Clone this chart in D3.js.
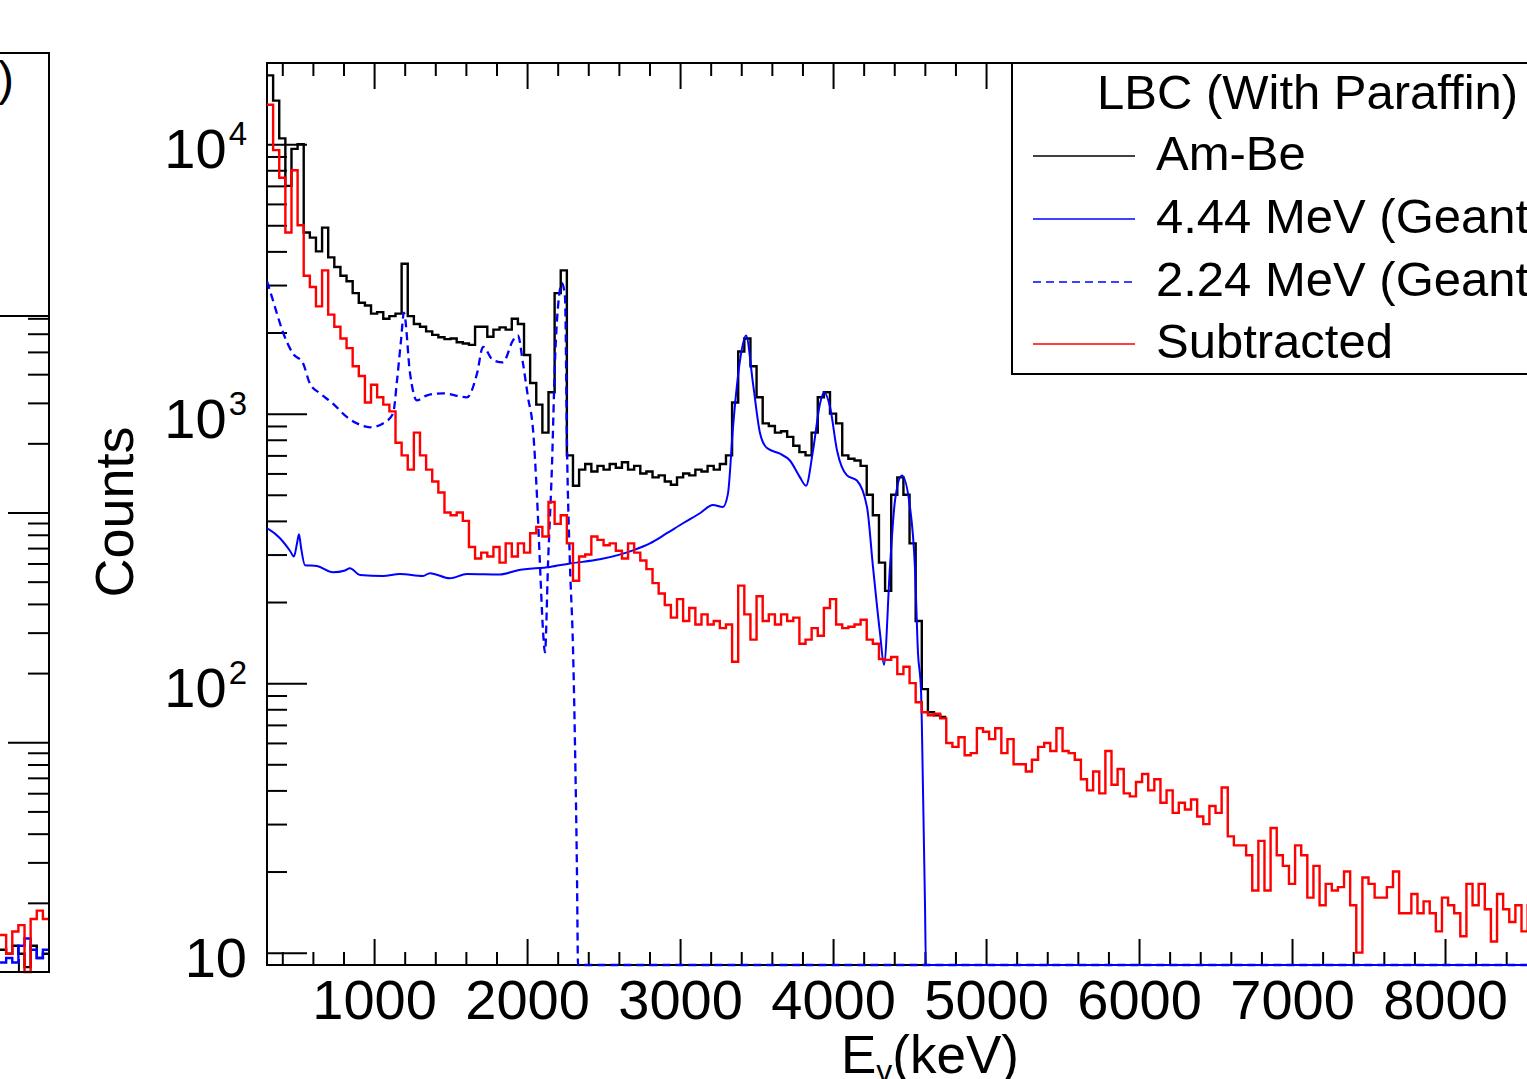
<!DOCTYPE html>
<html><head><meta charset="utf-8">
<script src="https://cdn.jsdelivr.net/npm/d3@7"></script>
<style>
html,body{margin:0;padding:0;background:#fff;}
svg{display:block;font-family:"Liberation Sans",Arial,Helvetica,sans-serif;}
</style></head><body>
<svg id="chart" width="1527" height="1079"></svg>
<script>
// ---------------- data ----------------
const binStart = 300;   // keV, left edge of first bin
const binWidth = 40;    // keV

// Am-Be measured spectrum (counts per bin)
const amBe = [18000,14500,10500,7000,9600,10000,4700,4500,4000,4900,
  3800,3500,3250,3100,2800,2580,2520,2350,2380,2250,
  2300,2350,3600,2300,2150,2100,2020,1960,1920,1890,
  1900,1840,1820,1800,2100,2100,1930,2050,2090,2050,
  2250,2150,1650,1300,1080,850,1200,2800,3400,700,
  540,620,650,610,640,620,650,630,660,620,
  640,600,610,580,590,560,545,580,600,590,
  620,610,640,620,650,700,1100,1700,1900,1500,
  1150,920,900,850,860,820,760,720,700,850,
  1150,1200,1000,920,700,680,670,640,500,420,
  280,220,500,580,500,330,170,95,78,76,75];

// Subtracted spectrum (counts per bin)
const subtracted = [14000,9500,7500,4700,8000,5000,3250,2950,2500,3400,
  2330,2100,1900,1750,1500,1380,1100,1280,1150,1080,
  1020,780,700,620,850,700,620,560,510,430,
  420,430,400,320,290,305,295,320,280,330,
  295,330,305,360,380,350,470,390,420,330,
  240,295,300,350,340,325,330,310,290,330,
  305,285,265,235,215,195,175,205,170,190,
  165,180,165,170,160,165,120,230,180,145,
  210,170,180,165,180,170,175,140,145,160,
  150,190,205,165,160,162,165,172,145,140,
  123,122,125,108,115,100,85,78,76,77,
  74,60,58,63,54,55,68,66,62,68,
  55,62,50,50,47,52,58,60,56,68,
  56,55,52,44,40,47,39,56,42,48,
  39,38,43,46,40,44,36,40,33,36,
  34,37,32,30,35,33,41,27,25,25,
  23,17,26,17,29,23,21,18,25,23,
  16,21,15,18,17,17.5,20,15,10,19,
  18,16,16,17.5,20,14,14,16.5,14,15.5,
  14,12,16,15,14,11.5,18,15,18,14.5,
  11,16.5,14.5,13,15,12,15];

// Geant4 4.44 MeV simulation (energy keV, counts)
const g444E = [300,320,385,450,476,496,509,522,548,627,731,810,842,908,1058,1169,1320,1365,1496,1607,
  1823,1934,2150,2280,2476,2692,2803,2914,3019,3130,3215,3280,3313,3346,3392,3431,3477,3522,3568,3653,
  3718,3784,3823,3869,3915,3941,3980,4026,4091,4156,4222,4261,4307,4333,4372,4405,4450,4503,4535,4555,
  4575,4588,4601,4607,9000];
const g444V = [375,370,345,310,295,330,357,320,274,272,258,262,267,252,250,254,250,256,245,254,
  253,262,270,278,288,311,330,360,392,427,458,450,505,890,1580,1950,1290,850,745,710,
  670,580,540,730,1090,1200,1060,730,590,565,450,270,153,117,270,477,590,450,270,130,
  94,40,15,0,0];

// Geant4 2.24 MeV simulation (energy keV, counts)
const g224E = [300,333,365,405,470,535,581,646,731,823,888,973,1058,1124,1150,1176,1195,1235,1280,1346,
  1450,1607,1673,1712,1777,1842,1908,1940,1973,2006,2039,2065,2084,2104,2117,2137,2163,2182,2208,2228,
  2248,2261,2280,2300,2313,2326,2333,9000];
const g224V = [3100,2700,2350,2000,1670,1540,1290,1190,1090,970,920,890,920,1000,1330,1870,2370,1410,1120,1170,
  1190,1150,1410,1770,1580,1550,1870,1950,1540,1150,870,490,278,157,130,278,650,1540,2700,3050,
  2700,750,278,136,60,20,0,0];

// visible tail of the neighbouring (left) panel, bins from 8680 keV
const leftTailStart = 8680;
const leftRed   = [14.5,12,15,16,9.5,17,18.5,17];
const leftBlue  = [11,11.5,11,13,14,12.5,11.5,12.5];
const leftBlack = [12.5,12,13,12,10.5,13,11.5,12];

const xTickLabels = [1000,2000,3000,4000,5000,6000,7000,8000];
const yMajorTicks = [10,100,1000,10000];
const legendHeader = "LBC (With Paraffin)";
const legendLabels = ["Am-Be","4.44 MeV (Geant4)","2.24 MeV (Geant4)","Subtracted"];
const seriesColors = ["#000000","#0000ff","#0000ff","#ff0000"];

// ---------------- chart ----------------
const svg = d3.select("#chart");
const FONT = '"Liberation Sans",Arial,Helvetica,sans-serif';
const P = {left:267, right:1598, top:63, bottom:965};
const x = d3.scaleLinear().domain([300,9000]).range([P.left,P.right]);
const yMin = 9, yMax = 20000;
const y = d3.scaleLog().domain([yMin,yMax]).range([P.bottom,P.top]);
const yc = v => y(Math.max(v, yMin));

// minor tick values
const xMinor = d3.range(400, 9000, 200).filter(v => v % 1000 !== 0);
const yMinor = [];
for (let k = 1; k <= 4; k++) for (let m = 2; m <= 9; m++) {
  const v = m * Math.pow(10, k);
  if (v > yMin && v < yMax) yMinor.push(v);
}

function styleAxis(g){
  g.select(".domain").remove();
  g.selectAll(".tick line").attr("stroke","#000").attr("stroke-width",2);
  g.attr("font-family",FONT);
}

// ---- left (neighbouring) panel fragment ----
const xL = d3.scaleLinear().domain([300,9000]).range([49-8700*0.153, 49]);
const yL = d3.scaleLog().domain([10,1e5]).range([972,53]);
const yLMinor = [];
for (let k = 1; k <= 4; k++) for (let m = 2; m <= 9; m++) yLMinor.push(m*Math.pow(10,k));

svg.append("g").attr("transform","translate(49,0)")
  .call(d3.axisRight(yL).tickValues(yLMinor).tickSize(-21).tickFormat(""))
  .call(styleAxis);
svg.append("g").attr("transform","translate(49,0)")
  .call(d3.axisRight(yL).tickValues([100,1000,10000]).tickSize(-41).tickFormat(""))
  .call(styleAxis);
svg.append("g").attr("transform","translate(0,972)")
  .call(d3.axisBottom(xL).tickValues([8800]).tickSize(-13).tickFormat(""))
  .call(styleAxis);

function tailPts(vals, start){
  const pts = vals.map((v,i)=>[start+i*binWidth, v]);
  pts.push([start+vals.length*binWidth, vals[vals.length-1]]);
  return pts;
}
const lineL = d3.line().x(d=>xL(d[0])).y(d=>yL(Math.max(d[1],10))).curve(d3.curveStepAfter);
[[leftBlack,"#000"],[leftBlue,"#0000ff"],[leftRed,"#ff0000"]].forEach(([vals,c])=>{
  svg.append("path").attr("d",lineL(tailPts(vals,leftTailStart)))
    .attr("fill","none").attr("stroke",c).attr("stroke-width",2.4);
});
svg.append("path").attr("d","M-10,53H49V972H-10").attr("fill","none").attr("stroke","#000").attr("stroke-width",2);
svg.append("rect").attr("x",-300).attr("y",53).attr("width",349).attr("height",263)
  .attr("fill","#fff").attr("stroke","#000").attr("stroke-width",2);
svg.append("text").attr("x",14).attr("y",95).attr("text-anchor","end")
  .attr("font-size",48).attr("font-family",FONT).text(")");

// ---- main panel axes ----
svg.append("g").attr("transform",`translate(0,${P.bottom})`)
  .call(d3.axisBottom(x).tickValues(xMinor).tickSize(-13).tickFormat(""))
  .call(styleAxis);
const xAx = svg.append("g").attr("transform",`translate(0,${P.bottom})`)
  .call(d3.axisBottom(x).tickValues(xTickLabels.concat([9000])).tickSizeInner(-26).tickSizeOuter(0)
        .tickPadding(14).tickFormat(d => d < 9000 ? String(d) : ""))
  .call(styleAxis);
xAx.selectAll("text").attr("font-size",56).attr("fill","#000");

svg.append("g").attr("transform",`translate(0,${P.top})`)
  .call(d3.axisTop(x).tickValues(xMinor).tickSize(-13).tickFormat(""))
  .call(styleAxis);
svg.append("g").attr("transform",`translate(0,${P.top})`)
  .call(d3.axisTop(x).tickValues(xTickLabels.concat([9000])).tickSize(-26).tickFormat(""))
  .call(styleAxis);

svg.append("g").attr("transform",`translate(${P.left},0)`)
  .call(d3.axisLeft(y).tickValues(yMinor).tickSize(-20).tickFormat(""))
  .call(styleAxis);
const yAx = svg.append("g").attr("transform",`translate(${P.left},0)`)
  .call(d3.axisLeft(y).tickValues(yMajorTicks).tickSize(-40).tickPadding(20).tickFormat(d=>String(d)))
  .call(styleAxis);
yAx.selectAll("text").each(function(d){
  const t = d3.select(this);
  t.text(null).attr("font-size",56).attr("fill","#000").attr("dy","0.42em");
  const exp = Math.round(Math.log10(d));
  t.append("tspan").text("10");
  if (exp > 1) t.append("tspan").attr("font-size",33).attr("dy","-0.7em").attr("dx","2").text(String(exp));
});

// frame
svg.append("rect").attr("x",P.left).attr("y",P.top).attr("width",P.right-P.left).attr("height",P.bottom-P.top)
  .attr("fill","none").attr("stroke","#000").attr("stroke-width",2);

// axis titles
svg.append("text").attr("transform","translate(133,512) rotate(-90)")
  .attr("text-anchor","middle").attr("font-size",54).attr("font-family",FONT).text("Counts");
const xt = svg.append("text").attr("x",930).attr("y",1073).attr("text-anchor","middle")
  .attr("font-size",53).attr("font-family",FONT);
xt.append("tspan").text("E");
xt.append("tspan").attr("font-size",32).attr("dy",9).text("γ");
xt.append("tspan").attr("dy",-9).text("(keV)");

// ---- data ----
svg.append("defs").append("clipPath").attr("id","plotclip")
  .append("rect").attr("x",P.left).attr("y",P.top-2).attr("width",P.right-P.left).attr("height",P.bottom-P.top+4);
const dg = svg.append("g").attr("clip-path","url(#plotclip)");

function histPts(vals){
  const pts = vals.map((v,i)=>[binStart+i*binWidth, v]);
  pts.push([binStart+vals.length*binWidth, vals[vals.length-1]]);
  return pts;
}
const stepLine = d3.line().x(d=>x(d[0])).y(d=>yc(d[1])).curve(d3.curveStepAfter);
const smoothLine = d3.line().x(d=>x(d[0])).y(d=>yc(d[1])).curve(d3.curveMonotoneX);

dg.append("path").attr("d",stepLine(histPts(amBe)))
  .attr("fill","none").attr("stroke",seriesColors[0]).attr("stroke-width",2.4);
dg.append("path").attr("d",smoothLine(g444E.map((e,i)=>[e,g444V[i]])))
  .attr("fill","none").attr("stroke",seriesColors[1]).attr("stroke-width",2);
dg.append("path").attr("d",smoothLine(g224E.map((e,i)=>[e,g224V[i]])))
  .attr("fill","none").attr("stroke",seriesColors[2]).attr("stroke-width",2.3).attr("stroke-dasharray","8,5");
dg.append("path").attr("d",stepLine(histPts(subtracted)))
  .attr("fill","none").attr("stroke",seriesColors[3]).attr("stroke-width",2.4);

// ---- legend ----
const lg = svg.append("g").attr("font-family",FONT);
lg.append("rect").attr("x",1012).attr("y",63).attr("width",700).attr("height",311)
  .attr("fill","#fff").attr("stroke","#000").attr("stroke-width",2);
lg.append("text").attr("x",1097).attr("y",109).attr("font-size",49).text(legendHeader);
const rowY = [156,219,282,344];
legendLabels.forEach((lab,i)=>{
  const ln = lg.append("line").attr("x1",1033).attr("x2",1135).attr("y1",rowY[i]).attr("y2",rowY[i])
    .attr("stroke",seriesColors[i]).attr("stroke-width",1.6);
  if (i===2) ln.attr("stroke-dasharray","8,5");
  lg.append("text").attr("x",1156).attr("y",rowY[i]+14).attr("font-size",49).text(lab);
});
</script>
</body></html>
